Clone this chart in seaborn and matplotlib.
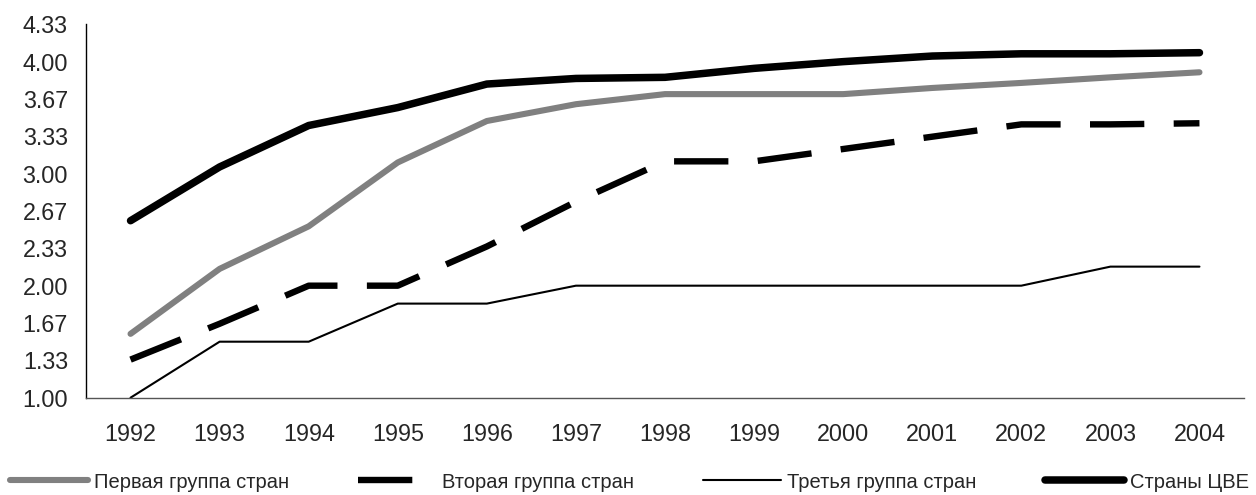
import numpy as np
import pandas as pd
import matplotlib
matplotlib.use("Agg")
import matplotlib.pyplot as plt
import seaborn as sns

years = ["1992", "1993", "1994", "1995", "1996", "1997", "1998",
         "1999", "2000", "2001", "2002", "2003", "2004"]
first_group = [1.57, 2.15, 2.53, 3.10, 3.47, 3.62, 3.71, 3.71, 3.71, 3.765, 3.81, 3.86, 3.905]
second_group = [1.34, 1.66, 2.00, 2.00, 2.35, 2.75, 3.11, 3.11, 3.22, 3.33, 3.44, 3.44, 3.45]
third_group = [1.00, 1.50, 1.50, 1.84, 1.84, 2.00, 2.00, 2.00, 2.00, 2.00, 2.00, 2.17, 2.17]
cee = [2.58, 3.06, 3.43, 3.59, 3.80, 3.85, 3.86, 3.94, 4.00, 4.05, 4.07, 4.07, 4.08]

labels = ["Первая группа стран", "Вторая группа стран", "Третья группа стран", "Страны ЦВЕ"]
yticks = [1.00, 1.33, 1.67, 2.00, 2.33, 2.67, 3.00, 3.33, 3.67, 4.00, 4.33]

sns.set_style("white")
plt.rcParams["font.family"] = ["Liberation Sans", "DejaVu Sans"]

fig = plt.figure(figsize=(12.56, 4.95), dpi=100)
ax = fig.add_axes([86 / 1256, 1 - 397.7 / 495, (1244 - 86) / 1256, (397.7 - 24.3) / 495])

pos = np.arange(len(years))
series = [
    (first_group, dict(color="#808080", linewidth=4.4, solid_capstyle="round")),
    (second_group, dict(color="black", linewidth=4.6, dashes=(8.5, 4.6), dash_capstyle="butt")),
    (third_group, dict(color="black", linewidth=1.5)),
    (cee, dict(color="black", linewidth=5.4, solid_capstyle="round")),
]
handles = []
for (vals, style), lab in zip(series, labels):
    df = pd.DataFrame({"x": pos, "y": vals})
    sns.lineplot(data=df, x="x", y="y", ax=ax, label=lab, legend=False, **style)
    handles.append(ax.lines[-1])

ax.set_xlim(-0.5, len(years) - 0.5)
ax.set_ylim(1.0, 13 / 3)
ax.set_yticks([1 + k / 3 for k in range(11)])
ax.set_yticklabels([f"{v:.2f}" for v in yticks])
ax.set_xticks(pos)
ax.set_xticklabels(years)
ax.set_xticks(np.arange(-0.5, len(years)), minor=True)
ax.tick_params(axis="x", which="major", length=0, pad=18, labelsize=16.8)
ax.tick_params(axis="x", which="minor", length=7, width=1, color="#555555", direction="out")
ax.tick_params(axis="y", length=7, width=1, color="black", direction="out", pad=6, labelsize=16.8)
ax.set_xlabel("")
ax.set_ylabel("")
for s in ["top", "right"]:
    ax.spines[s].set_visible(False)
ax.spines["left"].set_color("black")
ax.spines["left"].set_linewidth(1)
ax.spines["bottom"].set_color("#555555")
ax.spines["bottom"].set_linewidth(1)
ax.grid(False)

fig.legend(handles, labels, loc="center", bbox_to_anchor=(0.501, 1 - 482 / 495),
           ncol=4, frameon=False, fontsize=14.5, handlelength=3.9,
           handletextpad=0.3, columnspacing=3.4, borderpad=0, borderaxespad=0)

fig.savefig("out.png", dpi=100)
